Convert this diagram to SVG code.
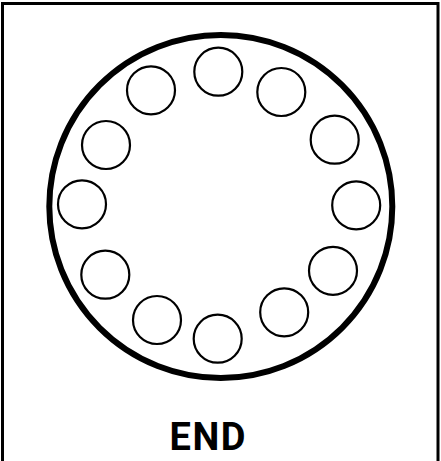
<svg xmlns="http://www.w3.org/2000/svg" width="441" height="461" viewBox="0 0 441 461">
<style>
.frame{fill:none;stroke:#000;stroke-width:3}
.outer{fill:none;stroke:#000;stroke-width:6}
.hole{fill:#fff;stroke:#000;stroke-width:2.2}
.lbl{font-family:Roboto,"Liberation Sans",Arial,sans-serif;font-weight:bold;font-size:38px;letter-spacing:1.5px;fill:#000;text-anchor:middle}
</style>
<rect width="441" height="461" fill="#fff"/>
<g id="frame"><rect class="frame" x="2.5" y="3.5" width="435.5" height="470"/></g>
<g id="dial"><circle class="outer" cx="220.8" cy="206.5" r="171.5"/></g>
<g id="holes">
<g id="h1"><circle class="hole" cx="218.3" cy="71.7" r="24"/></g>
<g id="h2"><circle class="hole" cx="281.3" cy="92" r="24"/></g>
<g id="h3"><circle class="hole" cx="334.7" cy="139.7" r="24"/></g>
<g id="h4"><circle class="hole" cx="356.2" cy="205.3" r="24"/></g>
<g id="h5"><circle class="hole" cx="333" cy="270.8" r="24"/></g>
<g id="h6"><circle class="hole" cx="284.2" cy="312.3" r="24"/></g>
<g id="h7"><circle class="hole" cx="217.7" cy="338.7" r="24"/></g>
<g id="h8"><circle class="hole" cx="157" cy="320" r="24"/></g>
<g id="h9"><circle class="hole" cx="105.3" cy="274.7" r="24"/></g>
<g id="h10"><circle class="hole" cx="82" cy="204.3" r="24"/></g>
<g id="h11"><circle class="hole" cx="106" cy="145" r="24"/></g>
<g id="h12"><circle class="hole" cx="151" cy="90.3" r="24"/></g>
</g>
<g id="label"><text class="lbl" x="208.3" y="450">END</text></g>
</svg>
